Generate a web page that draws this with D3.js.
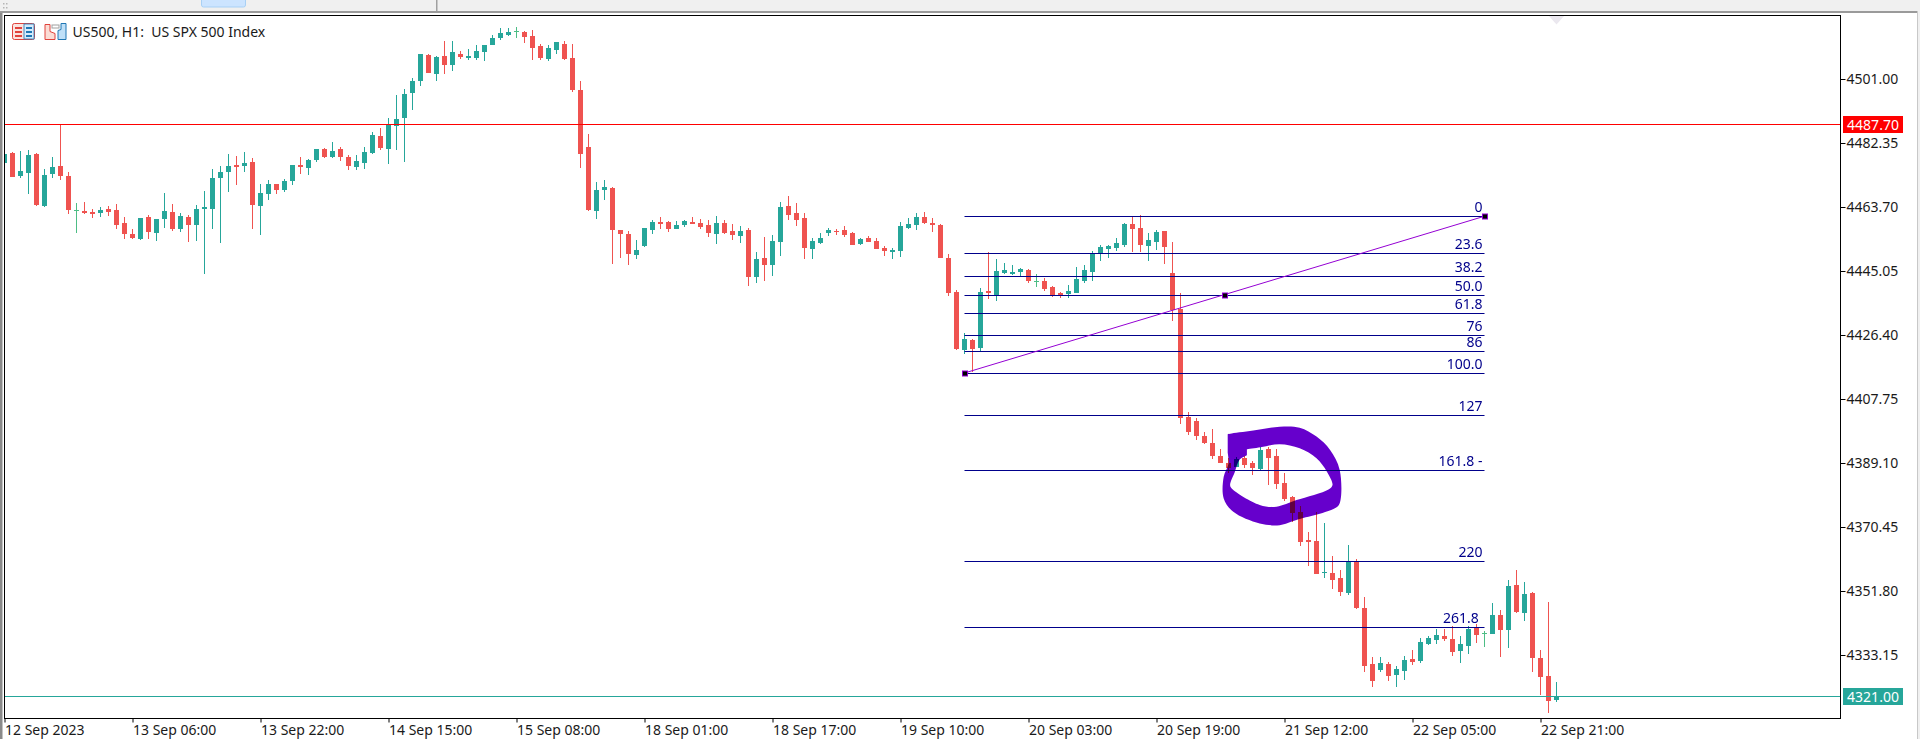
<!DOCTYPE html>
<html><head><meta charset="utf-8">
<style>
html,body{margin:0;padding:0;background:#fff;overflow:hidden}
svg{display:block}
text{font-family:"Noto Sans",sans-serif;font-size:14px;fill:#1a1a1a}
.fib{fill:#00008b}
</style>
<script src="https://cdn.jsdelivr.net/npm/d3@7/dist/d3.min.js"></script>
</head><body><svg id="c" width="1920" height="739"></svg>
<script>
const opens=[4476.4,4479.3,4472.7,4473.5,4479.1,4463.9,4473.2,4475.6,4472.7,4462.7,
4462.4,4462.2,4461.9,4463.0,4462.7,4458.9,4455.7,4454.3,4460.7,4456.0,
4460.1,4462.2,4457.2,4460.7,4458.4,4463.0,4463.0,4472.1,4473.8,4475.9,
4475.6,4476.7,4463.9,4467.4,4470.3,4468.6,4471.2,4475.9,4475.0,4477.3,
4480.5,4478.2,4480.5,4478.2,4475.3,4476.4,4479.3,4484.3,4480.5,4487.2,
4489.5,4496.8,4500.3,4507.9,4502.4,4507.6,4505.0,4508.2,4507.0,4507.0,
4508.8,4510.8,4512.9,4513.7,4514.9,4514.6,4513.4,4510.5,4506.7,4509.4,
4511.1,4507.0,4497.7,4481.1,4462.4,4468.6,4469.2,4456.9,4455.7,4449.6,
4452.2,4456.9,4459.2,4459.2,4457.2,4458.4,4459.2,4458.9,4458.4,4455.7,
4458.9,4456.6,4455.2,4456.9,4443.2,4448.7,4446.7,4453.4,4463.9,4461.9,
4460.4,4451.4,4453.1,4456.0,4456.6,4456.9,4456.0,4452.8,4454.6,4453.7,
4451.7,4450.5,4450.8,4457.5,4458.4,4460.7,4458.9,4458.4,4448.7,4438.8,
4421.9,4424.9,4422.5,4439.1,4438.0,4444.4,4444.1,4444.7,4445.3,4442.0,
4442.0,4440.3,4438.5,4438.3,4438.5,4442.0,4444.7,4450.2,4451.4,4451.7,
4452.5,4458.7,4457.5,4452.2,4453.4,4456.6,4444.4,4433.9,4402.4,4401.2,
4396.9,4394.8,4391.0,4389.0,4387.8,4390.5,4389.0,4387.3,4393.1,4391.0,
4383.2,4379.1,4374.7,4366.6,4366.3,4357.0,4357.0,4355.5,4351.1,4360.4,
4346.8,4330.4,4328.7,4330.4,4327.2,4328.4,4331.9,4331.3,4336.3,4337.4,
4338.6,4337.7,4334.2,4335.7,4341.2,4339.5,4339.2,4344.7,4340.3,4353.5,
4345.3,4351.1,4332.2,4326.9,4319.9];
const highs=[4479.1,4479.6,4479.9,4480.2,4479.3,4474.7,4478.2,4487.8,4473.8,4464.8,
4465.1,4463.0,4463.6,4463.9,4464.5,4460.7,4457.2,4460.4,4461.3,4460.1,
4467.7,4464.5,4461.9,4461.3,4464.2,4468.3,4474.7,4475.6,4479.1,4478.5,
4479.6,4477.9,4470.3,4471.5,4470.3,4471.8,4475.9,4478.2,4477.6,4480.5,
4480.8,4482.6,4481.1,4478.8,4478.8,4481.1,4485.5,4486.6,4489.5,4496.2,
4498.0,4501.2,4508.2,4508.2,4507.6,4512.0,4512.0,4509.1,4509.7,4510.8,
4510.8,4513.7,4515.8,4515.8,4516.1,4514.9,4515.2,4511.1,4510.8,4511.7,
4512.0,4511.1,4500.3,4484.9,4470.9,4471.5,4469.4,4456.9,4456.6,4454.0,
4457.5,4459.8,4460.7,4459.5,4459.5,4459.8,4460.7,4460.1,4459.8,4461.0,
4459.8,4458.7,4458.1,4457.5,4450.5,4454.9,4455.4,4465.1,4466.8,4464.8,
4461.9,4454.6,4456.0,4457.5,4457.2,4458.1,4456.3,4454.6,4455.2,4454.6,
4452.2,4451.7,4459.2,4460.4,4461.9,4462.2,4460.4,4458.7,4449.9,4439.4,
4426.9,4425.1,4440.0,4450.5,4448.4,4447.3,4446.7,4445.8,4445.5,4444.1,
4442.9,4440.6,4438.8,4440.9,4446.1,4446.7,4450.8,4452.5,4452.5,4454.6,
4458.9,4461.0,4461.3,4456.0,4456.9,4456.6,4453.4,4438.5,4403.9,4402.1,
4398.0,4398.9,4393.1,4390.5,4390.8,4391.0,4389.6,4393.7,4393.7,4393.1,
4386.1,4379.4,4376.5,4368.9,4374.7,4371.5,4361.9,4357.8,4365.1,4361.0,
4350.0,4332.5,4332.5,4331.0,4329.9,4332.8,4334.5,4338.0,4338.6,4340.6,
4340.6,4341.5,4338.6,4341.5,4342.1,4340.0,4348.2,4346.2,4354.9,4357.8,
4354.3,4351.4,4334.5,4348.5,4325.2];
const lows=[4476.4,4472.4,4472.1,4467.4,4463.9,4463.6,4472.1,4471.5,4461.6,4456.0,
4461.6,4460.4,4460.7,4461.0,4457.2,4454.3,4454.3,4454.0,4454.3,4453.7,
4457.5,4456.6,4456.3,4453.4,4453.7,4444.1,4457.2,4453.1,4468.0,4470.0,
4473.8,4457.2,4455.4,4465.7,4467.4,4468.0,4470.0,4473.2,4472.9,4476.7,
4477.9,4477.9,4477.0,4474.4,4474.4,4474.7,4479.1,4480.2,4476.1,4480.2,
4476.7,4491.9,4498.9,4502.7,4500.3,4502.4,4503.2,4506.7,4506.4,4506.4,
4506.2,4510.8,4512.3,4513.4,4512.9,4511.4,4506.4,4506.4,4506.2,4508.2,
4506.4,4497.1,4475.0,4462.4,4460.1,4465.7,4447.0,4448.7,4446.7,4448.4,
4451.9,4455.7,4457.2,4456.3,4457.2,4457.8,4458.7,4457.2,4454.9,4452.8,
4455.7,4454.0,4453.1,4440.6,4441.5,4442.0,4443.5,4449.3,4459.8,4458.1,
4448.4,4448.4,4452.8,4455.2,4455.4,4454.9,4452.5,4452.5,4453.4,4451.4,
4449.3,4448.4,4449.0,4457.2,4456.9,4458.7,4456.3,4448.7,4437.7,4421.9,
4420.8,4415.5,4421.4,4436.8,4436.2,4444.1,4443.8,4443.5,4441.5,4440.3,
4439.1,4437.4,4437.1,4437.1,4438.5,4441.5,4442.0,4447.9,4448.7,4450.8,
4451.9,4450.5,4450.5,4447.9,4451.1,4447.0,4430.4,4400.4,4397.2,4395.7,
4394.5,4390.2,4389.0,4386.1,4387.8,4387.6,4385.5,4387.0,4382.6,4381.4,
4377.9,4371.8,4364.8,4359.0,4356.7,4355.5,4352.3,4350.2,4350.5,4346.5,
4328.1,4323.7,4328.1,4325.5,4323.7,4325.8,4330.1,4330.7,4336.0,4336.3,
4337.1,4332.8,4330.7,4333.3,4336.5,4335.4,4339.2,4332.5,4335.1,4345.3,
4343.0,4328.1,4321.4,4316.2,4319.4];
const closes=[4479.1,4472.4,4474.1,4478.8,4464.2,4472.9,4475.3,4472.7,4462.7,4462.7,
4461.9,4461.6,4462.7,4462.2,4458.4,4455.7,4454.6,4460.4,4456.3,4460.1,
4462.4,4457.2,4461.0,4458.4,4463.0,4463.6,4472.1,4473.8,4475.6,4475.3,
4476.4,4464.2,4467.7,4470.3,4468.6,4471.2,4475.9,4475.3,4477.3,4480.5,
4478.2,4479.9,4478.2,4475.6,4477.0,4479.6,4484.6,4480.8,4487.5,4489.2,
4496.5,4500.3,4508.2,4502.7,4507.3,4505.0,4508.8,4507.3,4507.6,4509.1,
4510.8,4512.9,4514.3,4514.6,4514.9,4513.2,4509.9,4507.0,4509.9,4511.7,
4506.7,4497.7,4479.1,4462.7,4468.6,4469.4,4456.9,4455.7,4449.9,4451.1,
4457.5,4459.2,4458.7,4457.2,4458.4,4459.5,4458.7,4457.8,4456.0,4458.9,
4456.0,4455.4,4456.6,4443.2,4448.4,4446.7,4453.7,4463.6,4461.3,4459.8,
4451.7,4453.7,4454.6,4456.9,4456.3,4455.4,4452.5,4454.3,4453.4,4451.4,
4450.8,4451.1,4458.1,4458.7,4460.7,4458.9,4458.4,4448.7,4438.5,4422.2,
4425.1,4422.2,4438.8,4438.5,4445.0,4445.3,4444.7,4445.5,4442.0,4442.0,
4439.7,4437.7,4437.7,4439.1,4442.6,4445.3,4450.2,4451.9,4452.2,4453.1,
4458.7,4457.2,4452.5,4454.0,4456.3,4451.9,4433.6,4402.1,4398.0,4396.9,
4394.8,4391.0,4389.0,4387.6,4390.2,4388.4,4387.6,4392.8,4390.5,4382.9,
4378.5,4374.4,4366.0,4366.0,4356.7,4357.2,4354.9,4351.4,4360.4,4346.8,
4329.9,4325.5,4330.7,4326.9,4329.0,4331.6,4331.0,4336.8,4338.0,4338.9,
4337.7,4333.9,4336.3,4340.6,4338.9,4339.5,4344.7,4340.3,4353.2,4345.6,
4350.8,4332.2,4326.6,4319.6,4321.0];

const timeTickBars=[0,16,32,48,64,80,96,112,128,144,160,176,192];
const timeTickLabels=["12 Sep 2023","13 Sep 06:00","13 Sep 22:00","14 Sep 15:00","15 Sep 08:00","18 Sep 01:00","18 Sep 17:00","19 Sep 10:00","20 Sep 03:00","20 Sep 19:00","21 Sep 12:00","22 Sep 05:00","22 Sep 21:00"];
const priceTicks=[4501.00,4482.35,4463.70,4445.05,4426.40,4407.75,4389.10,4370.45,4351.80,4333.15];
const askPrice=4487.70, bidPrice=4321.00;
const fibLevels=[0,23.6,38.2,50,61.8,76,86,100,127,161.8,220,261.8];
const fibLabels=["0","23.6","38.2","50.0","61.8","76","86","100.0","127","161.8 -","220","261.8 "];
const fibStartBar=120, fibEndBar=185, fibHigh=4460.93, fibLow=4415.24;
const scribbleOuter=[[152.9,4397.4],[152.9,4397.4],[153.4,4397.6],[156.5,4398.6],[159.4,4399.6],[161.9,4399.3],[164.0,4396.7],[165.7,4392.8],[166.9,4387.0],[166.9,4377.3],[166.3,4375.8],[161.5,4372.4],[159.4,4370.9],[156.9,4371.4],[153.6,4374.8],[152.4,4378.7],[152.4,4385.0],[153.0,4388.9],[152.9,4392.0],[152.9,4392.0],[152.9,4394.5]];
const scribbleInner=[[155.3,4393.0],[155.3,4393.0],[157.0,4393.6],[159.4,4394.5],[161.9,4393.3],[164.0,4390.4],[165.3,4386.5],[166.0,4382.6],[165.5,4381.3],[161.5,4378.2],[159.0,4376.3],[156.9,4376.8],[153.4,4381.6],[153.2,4382.6],[153.8,4386.5],[154.4,4390.0],[155.3,4391.3],[155.3,4391.3]];

const RED="#ef5350",GREEN="#26a69a",DOJI="#4dbd85",NAVY="#00008b",VIOLET="#9400d3";
const frame={l:4.5,r:1840.5,t:15.5,b:718.5};
const svg=d3.select("#c");
const x=d3.scaleLinear().domain([0,194]).range([4.5,1556.5]);
const y=d3.scaleLinear().domain([4501,4321]).range([78.7,696.4]);
const py=v=>Math.round(y(v));

// window chrome
svg.append("rect").attr("x",0).attr("y",0).attr("width",1920).attr("height",11).attr("fill","#f0f0f0");
svg.append("rect").attr("x",201.5).attr("y",-3).attr("width",44).attr("height",10).attr("rx",2).attr("fill","#cce4ff").attr("stroke","#a8d0f5");
svg.append("rect").attr("x",436).attr("y",0).attr("width",1.5).attr("height",11).attr("fill","#a0a0a0");
svg.append("rect").attr("x",0).attr("y",11).attr("width",1918).attr("height",2).attr("fill","#9a9a9a");
svg.append("rect").attr("x",0).attr("y",13).attr("width",2.5).attr("height",726).attr("fill","#8a8a8a");
svg.append("rect").attr("x",1917).attr("y",11).attr("width",1).attr("height",728).attr("fill","#c8c8c8");
svg.append("rect").attr("x",1918).attr("y",0).attr("width",2).attr("height",739).attr("fill","#f0f0f0");
svg.selectAll("rect.grip").data([[3,3],[6,3],[3,7],[6,7]]).join("rect").attr("class","grip").attr("x",d=>d[0]).attr("y",d=>d[1]).attr("width",1.5).attr("height",1.5).attr("fill","#b5b5b5");

svg.append("defs").append("clipPath").attr("id","plot").append("rect")
 .attr("x",frame.l).attr("y",frame.t).attr("width",frame.r-frame.l).attr("height",frame.b-frame.t);

const plot=svg.append("g").attr("clip-path","url(#plot)");
plot.append("path").attr("d",d3.line()([[x(194)-8,frame.t],[x(194)+8,frame.t],[x(194),frame.t+9]])+"Z").attr("fill","#ebe8ef");

// candles
const bars=d3.range(opens.length).map(i=>({i,o:opens[i],h:highs[i],l:lows[i],c:closes[i]}));
const col=d=>d.o===d.c?DOJI:(d.c>d.o?GREEN:RED);
const g=plot.append("g");
g.selectAll("rect.w").data(bars).join("rect").attr("class","w")
 .attr("x",d=>x(d.i)-0.5).attr("width",1)
 .attr("y",d=>py(d.h)).attr("height",d=>Math.max(1,py(d.l)-py(d.h))).attr("fill",col);
g.selectAll("rect.b").data(bars).join("rect").attr("class","b")
 .attr("x",d=>x(d.i)-2.5).attr("width",5)
 .attr("y",d=>py(Math.max(d.o,d.c))).attr("height",d=>Math.max(1,py(Math.min(d.o,d.c))-py(Math.max(d.o,d.c)))).attr("fill",col);

// bid / ask lines
[[askPrice,"#ff0000"],[bidPrice,GREEN]].forEach(([p,c])=>{
 plot.append("line").attr("x1",frame.l).attr("x2",frame.r).attr("y1",py(p)+.5).attr("y2",py(p)+.5).attr("stroke",c).attr("stroke-width",1);
});

// fibonacci
const fibPrice=l=>fibHigh+(fibLow-fibHigh)*l/100;
const fg=plot.append("g");
fibLevels.forEach((l,k)=>{
 const yy=py(fibPrice(l));
 fg.append("line").attr("x1",x(fibStartBar)).attr("x2",x(fibEndBar)).attr("y1",yy+.5).attr("y2",yy+.5).attr("stroke",NAVY).attr("stroke-width",1);
 fg.append("text").attr("class","fib").attr("x",x(fibEndBar)-2).attr("y",yy-4).attr("text-anchor","end").attr("xml:space","preserve").style("white-space","pre").text(fibLabels[k]);
});
fg.append("line").attr("x1",x(fibStartBar)).attr("y1",y(fibPrice(100))).attr("x2",x(fibEndBar)).attr("y2",y(fibPrice(0))).attr("stroke",VIOLET).attr("stroke-width",1);
[[fibStartBar,fibLow],[(fibStartBar+fibEndBar)/2,(fibHigh+fibLow)/2],[fibEndBar,fibHigh]].forEach(([b,p])=>{
 fg.append("rect").attr("x",Math.round(x(b))-2.5).attr("y",py(p)-2).attr("width",5).attr("height",5).attr("fill","#000").attr("stroke",VIOLET).attr("stroke-width",1);
});

// hand-drawn loop
const blob=d3.line().x(d=>x(d[0])).y(d=>y(d[1])).curve(d3.curveCatmullRomClosed.alpha(0.5));
plot.append("path").attr("d",blob(scribbleOuter)+blob(scribbleInner)).attr("fill","#6600cc").attr("fill-rule","evenodd").style("mix-blend-mode","multiply");

// frame
svg.append("rect").attr("x",frame.l).attr("y",frame.t).attr("width",frame.r-frame.l).attr("height",frame.b-frame.t).attr("fill","none").attr("stroke","#000").attr("stroke-width",1);

// axes
const yAxis=d3.axisRight(y).tickValues(priceTicks).tickFormat(d3.format(".2f")).tickSize(5).tickPadding(1);
const ya=svg.append("g").attr("transform",`translate(${frame.r},0)`).call(yAxis);
ya.select(".domain").remove();
ya.selectAll(".tick line").attr("stroke","#000");
ya.selectAll(".tick").attr("transform",d=>`translate(0,${py(d)+.5})`);
ya.selectAll(".tick text").style("font-family",'"Noto Sans",sans-serif').style("font-size","14px");

const xAxis=d3.axisBottom(x).tickValues(timeTickBars).tickFormat((d,i)=>timeTickLabels[i]).tickSize(4).tickPadding(2);
const xa=svg.append("g").attr("transform",`translate(0,${frame.b})`).call(xAxis);
xa.select(".domain").remove();
xa.selectAll(".tick line").attr("stroke","#000");
xa.selectAll(".tick text").attr("text-anchor","start").attr("x",0).attr("y",7).style("font-family",'"Noto Sans",sans-serif').style("font-size","14px");

// price tags
[[askPrice,"#ff0000"],[bidPrice,GREEN]].forEach(([p,c])=>{
 const yy=py(p);
 svg.append("rect").attr("x",1843).attr("y",yy-8).attr("width",60).attr("height",17).attr("fill",c);
 svg.append("text").attr("x",1873).attr("y",yy+5.5).attr("text-anchor","middle").style("fill","#fff").text(d3.format(".2f")(p));
});

// title & icons
const ic=svg.append("g");
ic.append("rect").attr("x",12.5).attr("y",23.5).attr("width",22).attr("height",16).attr("rx",2).attr("fill","#fbe3df").attr("stroke","#e0433c");
ic.append("rect").attr("x",24).attr("y",24).attr("width",10).attr("height",15).attr("fill","#d7ebfb").attr("stroke","#1f77b4").attr("stroke-width",.8);
[27,31,35].forEach(v=>{
 ic.append("rect").attr("x",15).attr("y",v).attr("width",7).attr("height",2).attr("fill","#e0433c");
 ic.append("rect").attr("x",26).attr("y",v).attr("width",6).attr("height",2).attr("fill","#1f77b4");
});
ic.append("path").attr("d","M45 24.5h5v7l5 2v6h-10z").attr("fill","#fbdcd5").attr("stroke","#e0433c");
ic.append("path").attr("d","M58 39.5v-9l3-1v-6h5v16z").attr("fill","#bfe0f8").attr("stroke","#1f77b4");
ic.append("rect").attr("x",52).attr("y",25).attr("width",7).attr("height",3).attr("fill","#fff").attr("stroke","#a0a0a0");
svg.append("text").attr("x",72.5).attr("y",37).style("white-space","pre").attr("xml:space","preserve").text("US500, H1:  US SPX 500 Index");
</script></body></html>
